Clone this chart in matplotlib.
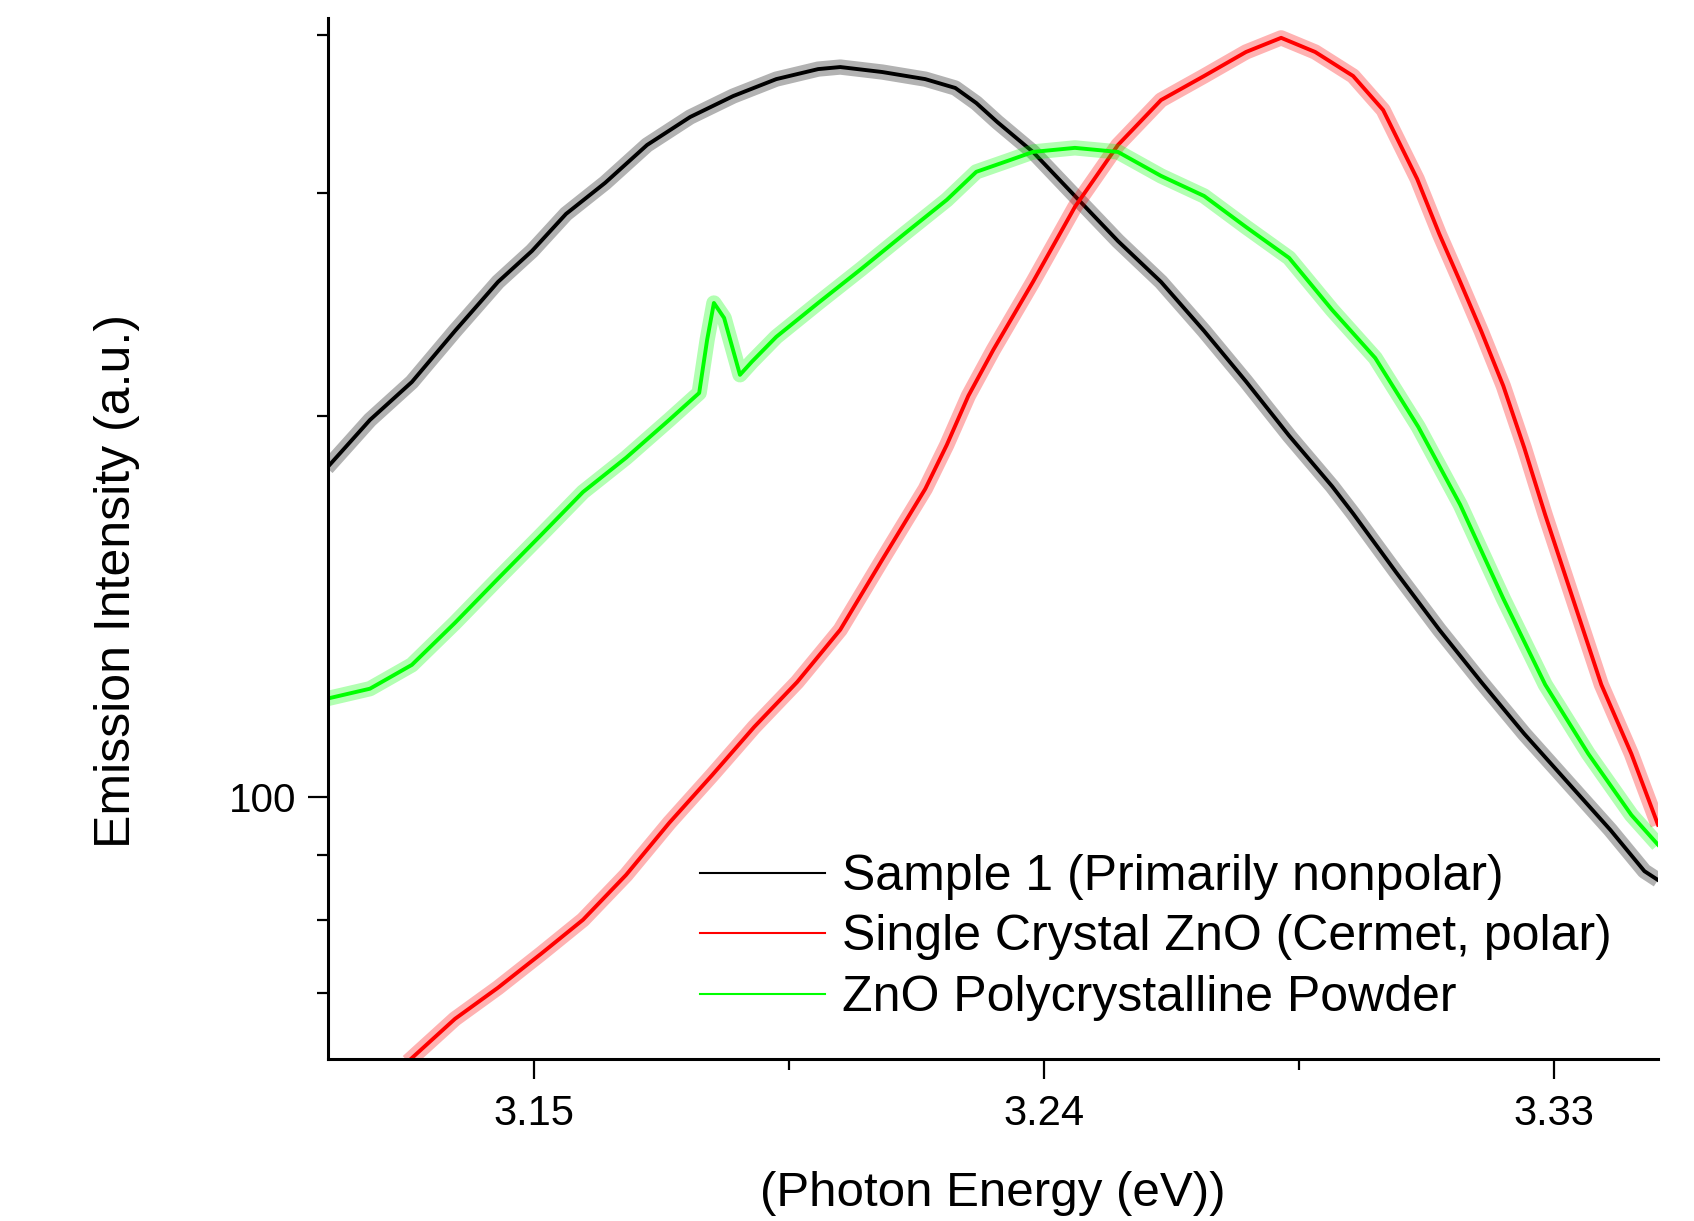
import matplotlib
matplotlib.use("Agg")
import matplotlib.pyplot as plt
from matplotlib import font_manager
from matplotlib.lines import Line2D
from matplotlib.ticker import FixedLocator, NullFormatter, FixedFormatter

# photon energy (eV) / emission intensity (a.u.)
sample1_x = [3.1135, 3.1211, 3.1285, 3.1361, 3.1437, 3.1497, 3.1557, 3.1626, 3.1700,
             3.1776, 3.1852, 3.1928, 3.2002, 3.2041, 3.2115, 3.2191, 3.2244, 3.2281,
             3.2318, 3.2381, 3.2455, 3.2531, 3.2607, 3.2683, 3.2757, 3.2833, 3.2909,
             3.2946, 3.3022, 3.3098, 3.3172, 3.3248, 3.3324, 3.3400, 3.3460, 3.3484]
sample1_y = [182.0, 198.6, 212.8, 233.5, 255.3, 270.1, 288.9, 305.7, 327.5,
             344.6, 358.0, 369.2, 376.0, 377.4, 374.0, 369.2, 363.3, 353.5,
             341.5, 323.4, 298.5, 275.0, 255.3, 233.5, 213.0, 193.0, 176.0,
             167.5, 150.5, 135.6, 123.3, 112.2, 102.8, 94.2, 87.4, 86.0]

cermet_x = [3.1278, 3.1361, 3.1437, 3.1513, 3.1587, 3.1663, 3.1739, 3.1815, 3.1889,
            3.1965, 3.2041, 3.2115, 3.2191, 3.2229, 3.2267, 3.2311, 3.2381, 3.2455,
            3.2531, 3.2607, 3.2683, 3.2757, 3.2819, 3.2879, 3.2946, 3.2999, 3.3059,
            3.3098, 3.3135, 3.3172, 3.3211, 3.3248, 3.3285, 3.3338, 3.3384, 3.3437,
            3.3484]
cermet_y = [61.8, 66.8, 70.7, 75.2, 80.0, 86.8, 95.4, 104.1, 113.6,
            123.3, 135.6, 154.0, 175.2, 189.8, 207.5, 225.6, 255.3, 292.6,
            327.5, 355.4, 371.3, 387.9, 398.0, 387.9, 371.3, 349.0, 307.9,
            278.6, 255.3, 233.5, 211.3, 188.8, 167.1, 141.6, 122.7, 108.2,
            95.1]

powder_x = [3.1135, 3.1211, 3.1285, 3.1361, 3.1437, 3.1513, 3.1587, 3.1663, 3.1739,
            3.1792, 3.1806, 3.1818, 3.1836, 3.1864, 3.1885, 3.1928, 3.2002, 3.2078,
            3.2154, 3.2229, 3.2281, 3.2341, 3.2381, 3.2455, 3.2531, 3.2607, 3.2683,
            3.2757, 3.2833, 3.2909, 3.2985, 3.3061, 3.3135, 3.3211, 3.3285, 3.3361,
            3.3437, 3.3484]
powder_y = [119.6, 121.8, 127.2, 137.3, 148.8, 161.1, 174.2, 185.4, 198.6,
            208.6, 229.7, 245.7, 239.1, 215.6, 220.8, 231.0, 245.7, 261.4,
            278.6, 296.4, 311.9, 318.7, 323.4, 325.8, 323.4, 309.6, 298.5,
            282.1, 266.7, 242.6, 222.3, 196.1, 170.2, 143.5, 122.7, 108.2,
            96.8, 91.7]

labels = ["Sample 1 (Primarily nonpolar)",
          "Single Crystal ZnO (Cermet, polar)",
          "ZnO Polycrystalline Powder"]
colors = ["#000000", "#FF0000", "#00FF00"]

x_major = [3.15, 3.24, 3.33]
x_minor = [3.195, 3.285]
y_major = [100]
y_minor = [70, 80, 90, 200, 300, 400]


def pick_font(names):
    installed = {f.name for f in font_manager.fontManager.ttflist}
    for n in names:
        if n in installed:
            return n
    return "DejaVu Sans"


main_font = pick_font(["Liberation Sans", "Arial", "DejaVu Sans"])
narrow_font = pick_font(["Liberation Sans Narrow", "Arial Narrow", main_font])

fig = plt.figure(figsize=(16.94, 12.21), dpi=100)
ax = fig.add_axes([328 / 1694, 1 - 1059 / 1221, 1330 / 1694, (1059 - 17.5) / 1221])

series = [(sample1_x, sample1_y), (cermet_x, cermet_y), (powder_x, powder_y)]
for (xs, ys), color in zip(series, colors):
    # wide faint band stands in for the noise of the measured trace
    ax.plot(xs, ys, color=color, linewidth=11, alpha=0.3, solid_capstyle="butt")
    ax.plot(xs, ys, color=color, linewidth=2.8)

ax.set_yscale("log")
ax.set_xlim(3.1137, 3.3484)
ax.set_ylim(62.1, 413)

ax.xaxis.set_major_locator(FixedLocator(x_major))
ax.xaxis.set_minor_locator(FixedLocator(x_minor))
ax.xaxis.set_major_formatter(FixedFormatter([f"{v:.2f}" for v in x_major]))
ax.yaxis.set_major_locator(FixedLocator(y_major))
ax.yaxis.set_minor_locator(FixedLocator(y_minor))
ax.yaxis.set_major_formatter(FixedFormatter([str(v) for v in y_major]))
ax.yaxis.set_minor_formatter(NullFormatter())

for side in ["top", "right"]:
    ax.spines[side].set_visible(False)
for side in ["left", "bottom"]:
    ax.spines[side].set_linewidth(2.2)

ax.tick_params(which="major", direction="out", length=14.5, width=1.6)
ax.tick_params(which="minor", direction="out", length=8, width=1.6)
ax.tick_params(axis="x", which="major", pad=11, labelsize=30)
ax.tick_params(axis="y", which="major", pad=8, labelsize=29)
for t in ax.get_xticklabels():
    t.set_fontfamily(narrow_font)
for t in ax.get_yticklabels():
    t.set_fontfamily(main_font)

ax.set_xlabel("(Photon Energy (eV))", fontsize=35.5, family=narrow_font, va="center")
ax.xaxis.set_label_coords(0.5, -(1194 - 1059) / 1041.5)
ax.set_ylabel("Emission Intensity (a.u.)", fontsize=36, family=main_font, va="center")
ax.yaxis.set_label_coords((117 - 328) / 1330, (1059 - 581) / 1041.5)

handles = [Line2D([], [], color=c, linewidth=1.5) for c in colors]
ax.legend(handles, labels, loc="upper left", bbox_to_anchor=((700 - 328) / 1330, (1059 - 854) / 1041.5),
          frameon=False, borderpad=0, borderaxespad=0, handlelength=2.5, handletextpad=0.35,
          labelspacing=0.29, prop={"family": main_font, "size": 36})

fig.savefig("out.png", dpi=100)
